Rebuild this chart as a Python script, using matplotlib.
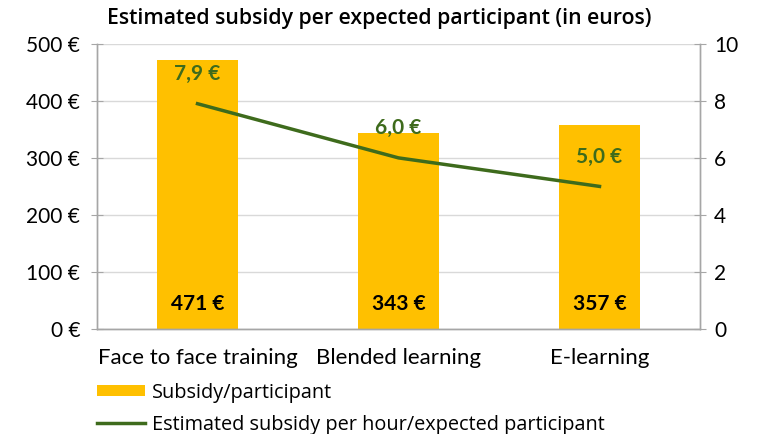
import matplotlib
matplotlib.use("Agg")
import matplotlib.pyplot as plt
import numpy as np

categories = ["Face to face training", "Blended learning", "E-learning"]
subsidy_per_participant = [471, 343, 357]
subsidy_per_hour = [7.9, 6.0, 5.0]
bar_labels = ["471 €", "343 €", "357 €"]
line_labels = ["7,9 €", "6,0 €", "5,0 €"]
left_ticks = [0, 100, 200, 300, 400, 500]
right_ticks = [0, 2, 4, 6, 8, 10]

plt.rcParams['font.family'] = ['Lato', 'DejaVu Sans']

fig = plt.figure(figsize=(7.58, 4.34), dpi=100)
ax = fig.add_axes([0.128, 0.242, 0.7955, 0.657])
ax2 = ax.twinx()

x = np.arange(len(categories))
bar_color = "#FFC000"
line_color = "#3E6B1C"

bars = ax.bar(x, subsidy_per_participant, width=0.4, color=bar_color, zorder=2,
              label="Subsidy/participant")
ax.set_ylim(0, 500)
ax.set_xlim(-0.5, 2.5)
ax.set_yticks(left_ticks)
ax.set_yticklabels([f"{v} €" for v in left_ticks], fontsize=15)
ax.set_xticks(x)
ax.set_xticklabels(categories, fontsize=16)
ax.tick_params(axis='x', length=0, pad=14)
ax.tick_params(axis='y', length=8, direction='inout', color="#A6A6A6", pad=8)
ax.grid(axis='y', color="#D9D9D9", linewidth=1, zorder=0)
ax.set_axisbelow(True)

for xi, lbl in zip(x, bar_labels):
    ax.annotate(lbl, xy=(xi, 0), xytext=(0, 18), textcoords='offset points',
                ha='center', va='center', fontsize=15, fontweight='bold', color='black')

line, = ax2.plot(x, subsidy_per_hour, color=line_color, linewidth=2.5, zorder=3,
                 label="Estimated subsidy per hour/expected participant")
ax2.set_ylim(0, 10)
ax2.set_yticks(right_ticks)
ax2.set_yticklabels([str(v) for v in right_ticks], fontsize=15)
ax2.tick_params(axis='y', length=8, direction='inout', color="#A6A6A6", pad=6)

for xi, v, lbl in zip(x, subsidy_per_hour, line_labels):
    ax2.annotate(lbl, xy=(xi, v), xytext=(0, 21.5), textcoords='offset points',
                 ha='center', va='center', fontsize=15, fontweight='bold', color=line_color)

for a in (ax, ax2):
    a.spines['top'].set_visible(False)
    for s in ('left', 'right', 'bottom'):
        a.spines[s].set_color("#A6A6A6")
        a.spines[s].set_linewidth(1)

fig.text(0.5, 0.958, "Estimated subsidy per expected participant (in euros)",
         ha='center', va='center', fontsize=15.3, fontweight='semibold',
         family=['Open Sans', 'DejaVu Sans'])

fig.legend([bars, line], ["Subsidy/participant", "Estimated subsidy per hour/expected participant"],
           loc='upper left', bbox_to_anchor=(0.128, 0.118), frameon=False,
           prop={'family': ['Open Sans', 'DejaVu Sans'], 'size': 14.3},
           handlelength=2.4, handleheight=0.5, handletextpad=0.35, labelspacing=0.6, borderaxespad=0,
           borderpad=0)

fig.savefig("out.png", dpi=100)
